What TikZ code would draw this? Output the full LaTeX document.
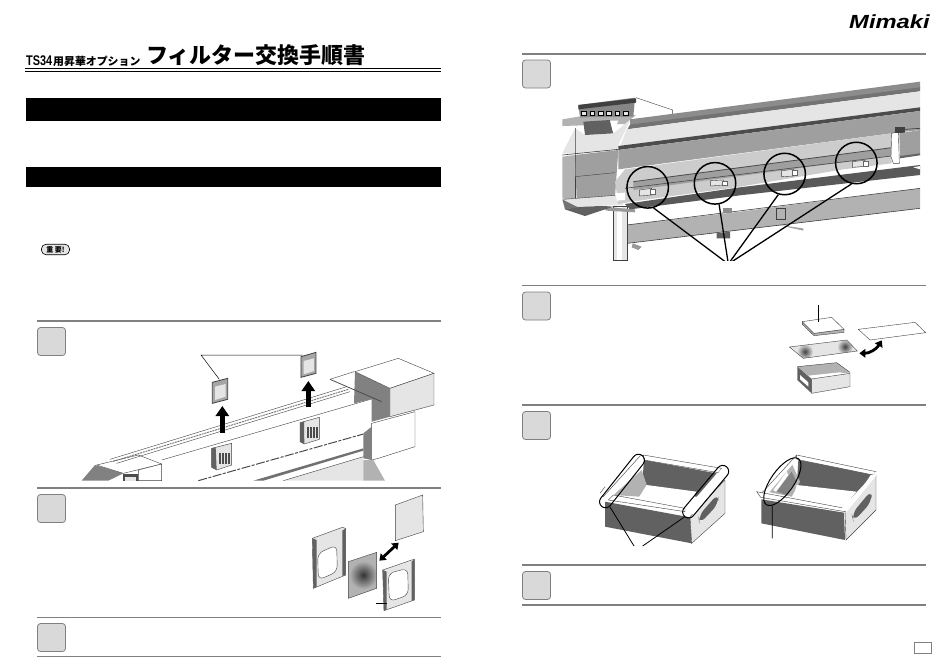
\documentclass[tikz,border=0pt]{standalone}
\usepackage{fontspec}
\usepackage{xcolor}
\setmainfont{Liberation Sans}
\newfontfamily\cjk{Noto Sans CJK JP}
\usetikzlibrary{calc,arrows.meta,shapes.geometric}

\definecolor{rulegray}{gray}{0.5}
\definecolor{boxgray}{gray}{0.85}
\definecolor{lightgray}{gray}{0.9}
\definecolor{midgray}{gray}{0.7}
\definecolor{darkgray}{gray}{0.38}
\definecolor{covergray}{gray}{0.8}

\tikzset{
  steprule/.style={rulegray, line width=1.2pt},
  stepbox/.style={draw=gray, fill=boxgray, line width=0.8pt, rounded corners=3pt,
    minimum width=28pt, minimum height=28pt, inner sep=0pt},
  blackbar/.style={fill=black},
  outline/.style={draw=black!75, line width=0.4pt},
  leader/.style={black, line width=0.5pt},
  ring/.style={circle, draw=black, line width=1.5pt, minimum size=41.5pt, inner sep=0pt},
  heavy/.style={black, line width=1.3pt},
  fatarrow/.style={line width=4.5pt, -{Triangle[length=10pt,width=13pt]}},
  twoarrow/.style={line width=2.8pt, {Triangle[length=6pt,width=8.5pt]}-{Triangle[length=6pt,width=8.5pt]}}
}

\begin{document}
\begin{tikzpicture}[x=1pt,y=-1pt]

    \useasboundingbox (0,0) rectangle (950,667);
    \fill[white] (0,0) rectangle (950,667);

    % Title
    \node[anchor=base west, inner sep=0pt, font=\bfseries\fontsize{14}{15}\selectfont] (titlea)
      at (26,65) {\addfontfeature{FakeStretch=0.78}TS34};
    \node[anchor=base west, inner sep=0pt, font=\cjk\bfseries\fontsize{10.9}{12}\selectfont] (titleb)
      at (53,65) {用昇華オプション};
    \node[anchor=base west, inner sep=0pt, font=\cjk\bfseries\fontsize{22}{24}\selectfont] (titlec)
      at (146,63.5) {フィルター交換手順書};
    \draw[line width=1.3pt] (25,68.5) -- (441,68.5);
    \draw[line width=0.6pt] (25,71.2) -- (441,71.2);

    % Logo
    \node[anchor=base east, inner sep=0pt, font=\bfseries\itshape\fontsize{19}{20}\selectfont,
      xscale=1.25] (logo) at (930,28) {Mimaki};

    % Black bars
    \fill[blackbar] (25.5,97.7) rectangle (441,120.7);
    \fill[blackbar] (25.5,166.7) rectangle (441,186.7);

    % Badge
    \node[draw=black, fill=lightgray, line width=0.6pt, rounded corners=4.5pt, minimum width=28pt,
      minimum height=10.5pt, inner sep=0pt, font=\cjk\bfseries\fontsize{7}{8}\selectfont] (badge)
      at (55.5,249.5) {重 要!};

    % Rules, left column
    \draw[steprule] (37,321) -- (441,321);
    \draw[steprule] (37,488) -- (441,488);
    \draw[steprule] (37,617.5) -- (441,617.5);
    \draw[steprule] (37,656.5) -- (441,656.5);

    % Rules, right column
    \draw[steprule] (522,54) -- (926,54);
    \draw[steprule] (522,285.5) -- (926,285.5);
    \draw[steprule] (522,405) -- (926,405);
    \draw[steprule] (522,565) -- (926,565);
    \draw[steprule] (522,605) -- (926,605);

    % Step boxes
    \node[stepbox] (boxa) at (51.5,341.5) {};
    \node[stepbox] (boxb) at (51.5,508.5) {};
    \node[stepbox] (boxc) at (51.5,637.5) {};
    \node[stepbox] (boxd) at (536.5,74) {};
    \node[stepbox] (boxe) at (536.5,306) {};
    \node[stepbox] (boxf) at (536.5,425.5) {};
    \node[stepbox] (boxg) at (536.5,585.5) {};

    % Page number box
    \draw[gray, line width=0.8pt] (914.3,642) rectangle (931,653.5);

    % --- Step 1 picture ---
    \begin{scope}[shift={(30,320)},scale=1/3]
      \clip (150,90) rectangle (1215,482);
      % left unit
      \fill[darkgray!80] (155,482) -- (195,435) -- (280,460) -- (235,482) -- cycle;
      \filldraw[outline, fill=white] (200,435) -- (325,405) -- (395,432) -- (280,460) -- cycle;
      \filldraw[outline, fill=white] (325,482) -- (325,450) -- (395,432) -- (395,482) -- cycle;
      \fill[black!70] (280,462) rectangle (325,482);
      \fill[lightgray] (286,470) rectangle (318,482);
      % rear rail
      \draw[outline] (240,418) -- (950,200);
      \draw[black!55, line width=0.9pt, dash pattern=on 2pt off 0.8pt] (250,424) -- (955,208);
      \draw[outline] (260,430) -- (960,215);
      % beam
      \draw[outline] (395,420) -- (1025,237);
      % lower rail
      \draw[black!70, line width=1pt, dash pattern=on 9pt off 1.5pt on 3pt off 1.5pt] (505,482) -- (1000,342);
      \fill[darkgray!90] (670,482) -- (1000,385) -- (1000,392) -- (700,482) -- cycle;
      \fill[lightgray] (760,482) -- (1000,410) -- (1000,482) -- cycle;
      \draw[outline] (760,482) -- (1000,410);
      % right box
      \fill[darkgray!80] (975,155) -- (1080,205) -- (1080,290) -- (1025,305) -- (1025,237) -- (972,250) -- cycle;
      \filldraw[outline, fill=white] (975,155) -- (1105,115) -- (1212,160) -- (1080,205) -- cycle;
      \filldraw[outline, fill=lightgray] (1080,205) -- (1212,160) -- (1212,255) -- (1080,290) -- cycle;
      \draw[outline] (900,178) -- (972,155);
      \draw[black!70, line width=0.8pt] (900,178) -- (1055,245);
      \filldraw[outline, fill=white] (1025,310) -- (1155,275) -- (1155,380) -- (1045,415) -- (1025,420) -- cycle;
      \fill[darkgray!80] (1000,340) -- (1025,320) -- (1025,420) -- (1000,415) -- cycle;
      \fill[midgray] (1000,420) -- (1030,420) -- (1065,482) -- (1000,482) -- cycle;
      % filter holders on the beam
      \filldraw[outline, fill=lightgray] (545,385) -- (605,370) -- (605,435) -- (560,450) -- (545,442) -- cycle;
      \fill[darkgray] (545,385) -- (557,382) -- (560,450) -- (545,442) -- cycle;
      \foreach \gx in {568,577,586,595} {
        \fill[black!70] (\gx,398) rectangle ++(5,33);
      }
      \filldraw[outline, fill=lightgray] (810,308) -- (868,292) -- (868,358) -- (823,372) -- (810,365) -- cycle;
      \fill[darkgray] (810,308) -- (822,305) -- (823,372) -- (810,365) -- cycle;
      \foreach \gx in {832,841,850,859} {
        \fill[black!70] (\gx,320) rectangle ++(5,33);
      }
      % panels taken out
      \filldraw[draw=black!75, line width=0.8pt, fill=gray!70] (547,187) -- (593,175) -- (593,238) -- (547,250) -- cycle;
      \fill[lightgray] (555,200) -- (587,192) -- (587,230) -- (555,240) -- cycle;
      \filldraw[draw=black!75, line width=0.8pt, fill=gray!70] (813,110) -- (858,97) -- (858,160) -- (813,172) -- cycle;
      \fill[lightgray] (821,123) -- (852,115) -- (852,153) -- (821,163) -- cycle;
      % arrows
      \draw[fatarrow] (577,340) -- (577,258);
      \draw[fatarrow] (835,262) -- (835,183);
      % leader
      \coordinate (lblpanel) at (513,105);
      \coordinate (pana) at (568,178);
      \coordinate (panb) at (818,105);
      \draw[leader] (pana) -- (lblpanel) -- (panb);
    \end{scope}

    % --- Step 2 picture ---
    \begin{scope}[shift={(280,490)},scale=1/3]
      % back frame
      \filldraw[outline, fill=lightgray] (97,145) -- (187,112) -- (197,115) -- (197,255) -- (100,295) -- cycle;
      \fill[darkgray] (97,145) -- (110,150) -- (110,290) -- (100,295) -- cycle;
      \fill[darkgray] (187,122) -- (197,115) -- (197,255) -- (187,258) -- cycle;
      \filldraw[outline, fill=white, rounded corners=6pt] (113,190) -- (170,165) -- (172,245) -- (115,270) -- cycle;
      % filter
      \begin{scope}
        \clip (205,215) -- (290,187) -- (290,295) -- (205,325) -- cycle;
        \fill[midgray] (195,180) rectangle (300,330);
        \shade[inner color=black!80, outer color=midgray] (250,255) circle (42);
      \end{scope}
      \draw[outline] (205,215) -- (290,187) -- (290,295) -- (205,325) -- cycle;
      % sheet
      \filldraw[outline, fill=lightgray] (346,45) -- (428,15) -- (430,125) -- (346,152) -- cycle;
      % front frame
      \filldraw[outline, fill=lightgray] (308,240) -- (395,210) -- (403,208) -- (403,330) -- (312,362) -- cycle;
      \fill[darkgray] (308,240) -- (320,245) -- (320,358) -- (312,362) -- cycle;
      \fill[darkgray] (395,215) -- (403,208) -- (403,330) -- (395,333) -- cycle;
      \filldraw[outline, fill=white, rounded corners=6pt] (325,250) -- (383,235) -- (385,315) -- (328,335) -- cycle;
      % arrow and leader
      \coordinate (arrowa) at (298,212);
      \coordinate (arrowb) at (356,158);
      \draw[twoarrow] (arrowa) -- (arrowb);
      \coordinate (framel) at (288,340);
      \coordinate (framer) at (320,340);
      \draw[leader] (framel) -- (framer);
    \end{scope}

    % --- Step 3 picture ---
    \begin{scope}[shift={(510,50)},scale=1/3]
      \clip (155,90) rectangle (1230,630);
      % beam and leg
      \fill[midgray] (350,525) -- (690,485) -- (1230,415) -- (1230,475) -- (690,540) -- (352,580) -- cycle;
      \draw[outline, line width=0.6pt] (350,525) -- (1230,415);
      \draw[outline, line width=0.6pt] (352,580) -- (1230,475);
      \filldraw[outline, fill=lightgray] (310,470) rectangle (352,630);
      \fill[white] (322,470) rectangle (335,630);
      \fill[gray!80] (275,470) -- (375,478) -- (375,487) -- (290,482) -- cycle;
      \fill[gray!80] (368,580) -- (395,590) -- (385,600) -- (365,592) -- cycle;
      \filldraw[outline, fill=midgray] (800,475) rectangle (825,508);
      \fill[darkgray] (620,550) -- (660,545) -- (660,565) -- (620,565) -- cycle;
      \fill[gray!90] (640,475) rectangle (665,488);
      \fill[gray!70] (810,525) -- (880,535) -- (880,542) -- (835,532) -- cycle;
      % left unit
      \fill[darkgray] (165,478) -- (205,470) -- (280,468) -- (310,470) -- (225,498) -- cycle;
      \fill[midgray] (157,208) -- (205,200) -- (378,195) -- (345,222) -- (157,228) -- cycle;
      \draw[outline] (378,143) -- (488,180) -- (488,195);
      \fill[gray!95] (205,165) -- (375,143) -- (370,200) -- (210,202) -- cycle;
      \foreach \kx in {215,240,265,290,315,340} {
        \filldraw[draw=black, fill=lightgray] (\kx,183) rectangle ++(14,12);
      }
      \fill[black!75] (205,165) -- (378,145) -- (378,158) -- (205,178) -- cycle;
      \fill[lightgray] (157,310) -- (195,235) -- (225,255) -- (310,250) -- (360,210) -- (325,285) -- (325,300) -- (195,310) -- cycle;
      \fill[darkgray] (220,215) -- (300,210) -- (310,250) -- (225,255) -- cycle;
      \fill[white] (300,212) -- (325,212) -- (310,250) -- cycle;
      \fill[midgray] (157,320) -- (195,315) -- (195,455) -- (157,445) -- cycle;
      \fill[gray!75] (195,315) -- (325,300) -- (315,440) -- (200,450) -- cycle;
      \draw[outline, line width=0.6pt] (157,315) -- (325,298);
      \draw[outline] (195,235) -- (195,310) -- (195,455);
      \draw[outline] (195,380) -- (315,368);
      \fill[lightgray] (160,448) -- (315,436) -- (340,465) -- (205,470) -- cycle;
      \draw[outline] (160,448) -- (315,436);
      \fill[black!55] (157,448) -- (205,472) -- (165,478) -- cycle;
      % top rails
      \fill[gray!90] (360,208) -- (1230,95) -- (1230,115) -- (360,226) -- cycle;
      \fill[black!55] (360,224) -- (1230,112) -- (1230,124) -- (352,238) -- cycle;
      \fill[lightgray] (350,238) -- (1230,124) -- (1230,175) -- (330,290) -- cycle;
      \fill[black!70] (325,288) -- (1230,172) -- (1230,183) -- (325,300) -- cycle;
      \fill[gray!75] (325,300) -- (1230,183) -- (1230,240) -- (1145,250) -- (325,358) -- cycle;
      % cover
      \fill[covergray] (345,358) -- (1145,250) -- (1145,340) -- (1000,358) -- (690,410) -- (400,450) -- (325,462) -- (315,395) -- cycle;
      \fill[gray!75] (370,395) -- (690,352) -- (1145,293) -- (1145,318) -- (690,378) -- (370,420) -- cycle;
      \draw[black!70, line width=0.8pt] (370,395) -- (1145,293);
      \draw[black!70, line width=0.6pt] (345,415) -- (1145,318);
      \fill[black!65] (360,478) -- (345,462) -- (690,412) -- (1230,345) -- (1230,375) -- (690,436) -- cycle;
      \fill[white] (318,430) -- (345,428) -- (345,450) -- (320,452) -- cycle;
      % side latch
      \filldraw[outline, fill=white] (1145,250) -- (1165,245) -- (1168,340) -- (1150,340) -- (1143,320) -- cycle;
      \fill[black!75] (1155,230) rectangle (1185,250);
      \draw[outline, line width=0.7pt] (1185,238) -- (1230,235);
      \fill[gray!75] (1168,250) -- (1230,240) -- (1230,312) -- (1170,320) -- cycle;
      \fill[black!60] (1170,318) -- (1230,310) -- (1230,316) -- (1170,325) -- cycle;
      \fill[white] (1210,352) -- (1230,348) -- (1230,358) -- cycle;
      % latches inside the rings
      \filldraw[outline, fill=lightgray] (388,420) -- (425,415) -- (425,435) -- (388,438) -- cycle;
      \fill[white, draw=black!60, line width=0.3pt] (420,418) rectangle (435,432);
      \filldraw[outline, fill=lightgray] (602,392) -- (640,390) -- (640,405) -- (602,408) -- cycle;
      \fill[white, draw=black!60, line width=0.3pt] (635,393) rectangle (650,405);
      \filldraw[outline, fill=lightgray] (815,362) -- (852,358) -- (852,378) -- (815,380) -- cycle;
      \fill[white, draw=black!60, line width=0.3pt] (846,360) rectangle (861,374);
      \filldraw[outline, fill=lightgray] (1027,335) -- (1065,331) -- (1065,349) -- (1027,352) -- cycle;
      \fill[white, draw=black!60, line width=0.3pt] (1060,333) rectangle (1075,347);
      % rings
      \node[ring] (ringa) at (413,412) {};
      \node[ring] (ringb) at (615,400) {};
      \node[ring] (ringc) at (824,372) {};
      \node[ring] (ringd) at (1039,339) {};
      \coordinate (hub) at (655,642);
      \draw[heavy] (ringa.-74) -- (hub);
      \draw[heavy] (ringb.-79) -- (hub);
      \draw[heavy] (ringc.-107) -- (hub);
      \draw[heavy] (ringd.-103) -- (hub);
    \end{scope}

    % --- Step 4 picture ---
    \begin{scope}[shift={(740,285)},scale=1/3]
      % plate
      \filldraw[outline, fill=midgray] (187,110) -- (222,145) -- (312,133) -- (312,142) -- (222,152) -- (187,118) -- cycle;
      \filldraw[outline, fill=white] (187,110) -- (275,97) -- (312,133) -- (222,145) -- cycle;
      \coordinate (platetop) at (235,60);
      \coordinate (platemid) at (235,110);
      \draw[leader] (platetop) -- (platemid);
      % used filter
      \begin{scope}
        \clip (148,186) -- (320,165) -- (352,198) -- (190,220) -- cycle;
        \fill[lightgray] (140,160) rectangle (360,225);
        \shade[inner color=black!75, outer color=lightgray] (195,200) circle (24);
        \shade[inner color=black!75, outer color=lightgray] (315,185) circle (24);
      \end{scope}
      \draw[outline] (148,186) -- (320,165) -- (352,198) -- (190,220) -- cycle;
      % new filter
      \draw[outline, fill=white] (355,133) -- (525,112) -- (557,143) -- (390,165) -- cycle;
      % arrow
      \coordinate (bendl) at (358,205);
      \coordinate (bendr) at (425,166);
      \draw[twoarrow] (bendl) to[bend right=30] (bendr);
      % tray
      \fill[midgray] (172,245) -- (290,233) -- (330,262) -- (215,280) -- cycle;
      \fill[white] (205,272) -- (300,262) -- (320,268) -- (215,280) -- cycle;
      \filldraw[outline, fill=lightgray] (215,282) -- (330,265) -- (330,305) -- (215,325) -- cycle;
      \fill[darkgray] (172,245) -- (215,282) -- (215,325) -- (172,285) -- cycle;
      \fill[white] (180,270) -- (205,292) -- (205,305) -- (180,283) -- cycle;
      \draw[outline] (172,245) -- (290,233) -- (330,262);
    \end{scope}

    % --- Step 5 pictures ---
    \begin{scope}[shift={(570,440)},scale=1/3]
      % left tray
      \fill[darkgray] (222,60) -- (440,100) -- (380,170) -- (215,150) -- cycle;
      \fill[midgray] (215,90) -- (130,165) -- (210,170) -- (230,135) -- cycle;
      \fill[white] (230,135) -- (380,155) -- (345,205) -- (205,175) -- cycle;
      \filldraw[outline, fill=white] (220,45) -- (455,85) -- (445,98) -- (222,60) -- cycle;
      \fill[white] (100,170) -- (210,48) -- (222,60) -- (120,178) -- cycle;
      \draw[outline] (100,170) -- (210,48) -- (220,45);
      \draw[outline] (90,160) -- (105,140);
      \filldraw[outline, fill=white] (130,165) -- (345,205) -- (345,215) -- (115,180) -- cycle;
      \fill[darkgray] (105,185) -- (360,232) -- (365,310) -- (105,260) -- cycle;
      \filldraw[outline, fill=lightgray] (360,230) -- (465,120) -- (465,220) -- (365,310) -- cycle;
      \fill[darkgray, rounded corners=8pt] (385,228) -- (445,160) -- (445,192) -- (388,252) -- cycle;
      \fill[white] (360,215) -- (455,85) -- (465,110) -- (370,225) -- cycle;
      % right tray
      \fill[darkgray] (685,60) -- (905,100) -- (855,175) -- (680,145) -- cycle;
      \fill[midgray] (665,70) -- (590,155) -- (665,170) -- (690,125) -- cycle;
      \fill[white] (680,135) -- (860,155) -- (815,205) -- (670,175) -- cycle;
      \filldraw[outline, fill=white] (680,45) -- (918,95) -- (910,105) -- (680,58) -- cycle;
      \fill[white] (570,165) -- (670,50) -- (680,58) -- (585,172) -- cycle;
      \draw[outline] (570,165) -- (680,45);
      \fill[darkgray!80] (620,155) -- (665,95) -- (680,125) -- (650,165) -- cycle;
      \fill[white] (610,150) -- (650,95) -- (655,105) -- (618,155) -- cycle;
      \filldraw[outline, fill=white] (560,155) -- (825,205) -- (825,215) -- (572,172) -- cycle;
      \fill[darkgray] (574,178) -- (822,218) -- (825,300) -- (574,250) -- cycle;
      \filldraw[outline, fill=lightgray] (825,215) -- (918,105) -- (918,210) -- (828,300) -- cycle;
      \fill[darkgray, rounded corners=8pt] (845,222) -- (905,150) -- (905,185) -- (850,245) -- cycle;
      \fill[white] (815,205) -- (918,95) -- (918,108) -- (830,215) -- cycle;
      % marks
      \node[draw=black, line width=1pt, rotate=51.6, rounded corners=6pt, minimum width=65pt,
        minimum height=12pt, inner sep=0pt] (capa) at (156,123) {};
      \node[draw=black, line width=1pt, rotate=50, rounded corners=6pt, minimum width=65pt,
        minimum height=12pt, inner sep=0pt] (capb) at (407,155) {};
      \node[draw=black, line width=1pt, ellipse, rotate=55, minimum width=56pt,
        minimum height=23pt, inner sep=0pt] (ovalc) at (637,125) {};
      \coordinate (hubb) at (192,318);
      \coordinate (hubd) at (218,318);
      \coordinate (hubc) at (607,295);
      \draw[leader, line width=0.8pt] ($(capa.south west)!0.08!(capa.south east)$) -- (hubb);
      \draw[leader, line width=0.8pt] (capb.west) -- (hubd);
      \draw[leader, line width=0.8pt] (ovalc.-168) -- (hubc);
    \end{scope}

\end{tikzpicture}
\end{document}
